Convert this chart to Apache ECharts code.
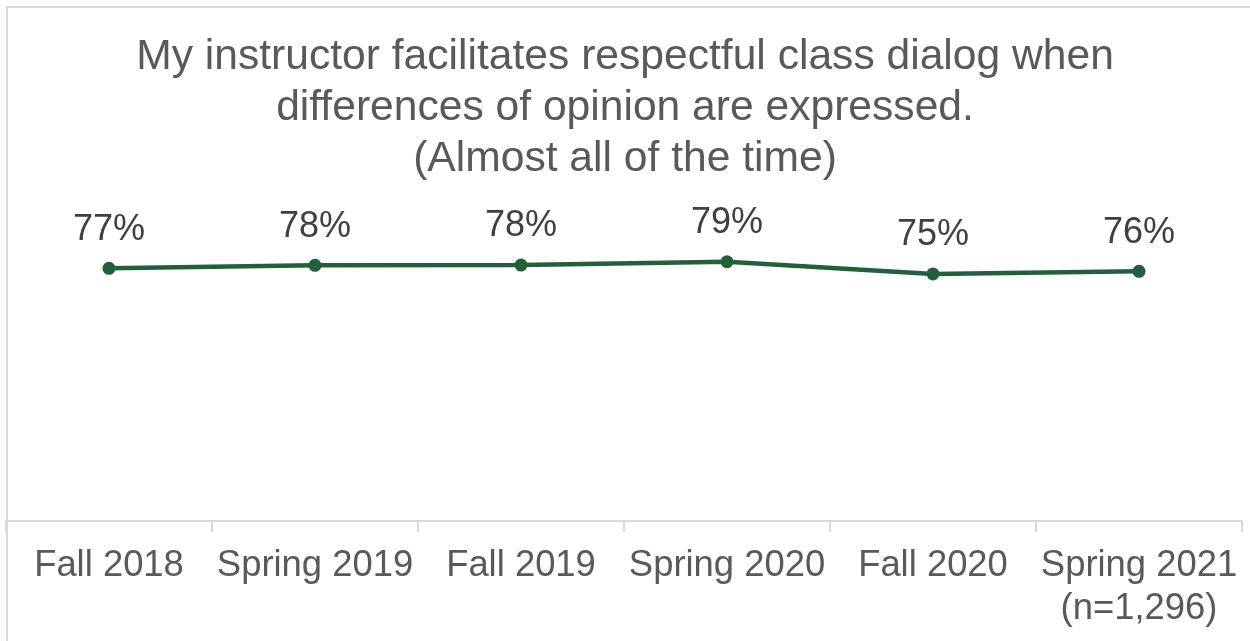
<!DOCTYPE html>
<html>
<head>
<meta charset="utf-8">
<script src="https://cdn.jsdelivr.net/npm/echarts@6/dist/echarts.min.js"></script>
<style>
  html, body { margin: 0; padding: 0; background: #fff; }
  #chart { width: 1250px; height: 641px; }
</style>
</head>
<body>
<div id="chart"></div>
<script>
const titleText = 'My instructor facilitates respectful class dialog when\ndifferences of opinion are expressed.\n(Almost all of the time)'
const terms = ['Fall 2018', 'Spring 2019', 'Fall 2019', 'Spring 2020', 'Fall 2020', 'Spring 2021\n(n=1,296)']
const pctAlmostAll = [76.8, 77.7, 77.8, 78.8, 75.1, 75.9]

const chart = echarts.init(document.getElementById('chart'))

chart.setOption({
  animation: false,
  textStyle: { fontFamily: 'Liberation Sans, Arial, sans-serif' },
  title: {
    text: titleText,
    left: 'center',
    top: 27,
    textStyle: {
      color: '#595959',
      fontSize: 42.6,
      fontWeight: 'normal',
      lineHeight: 51,
    },
  },
  graphic: [
    {
      type: 'rect',
      silent: true,
      shape: { x: 7, y: 7, width: 1400, height: 800 },
      style: { fill: 'none', stroke: '#d9d9d9', lineWidth: 2 },
    },
  ],
  grid: {
    top: 192,
    bottom: 120,
    left: 6,
    right: 8,
  },
  xAxis: {
    type: 'category',
    data: terms,
    axisLine: { show: true, lineStyle: { color: '#d9d9d9', width: 2 } },
    axisTick: {
      show: true,
      alignWithLabel: false,
      interval: 0,
      length: 11,
      lineStyle: { color: '#d9d9d9', width: 2 },
    },
    axisLabel: {
      interval: 0,
      color: '#595959',
      fontSize: 36.4,
      lineHeight: 43,
      margin: 23,
    },
  },
  yAxis: {
    type: 'value',
    min: 0,
    max: 100,
    show: false,
    splitLine: { show: false },
  },
  series: [
    {
      name: 'Almost all of the time',
      type: 'line',
      data: pctAlmostAll,
      symbol: 'circle',
      symbolSize: 13,
      lineStyle: { color: '#22603a', width: 4.5 },
      itemStyle: { color: '#22603a' },
      label: {
        show: true,
        position: 'top',
        distance: 14,
        color: '#404040',
        fontSize: 36,
        formatter: (p) => Math.round(p.value) + '%',
      },
    },
  ],
})
</script>
</body>
</html>
